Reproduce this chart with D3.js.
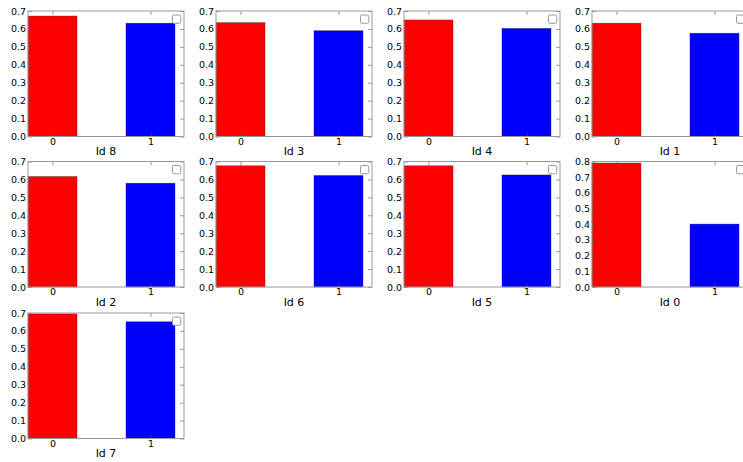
<!DOCTYPE html>
<html>
<head>
<meta charset="utf-8">
<script src="https://cdn.jsdelivr.net/npm/d3@7"></script>
<style>
  html, body { margin: 0; padding: 0; background: #fff; }
  svg { display: block; }
  text { font-family: "DejaVu Sans", sans-serif; fill: #000; }
</style>
</head>
<body>
<svg id="chart" width="743" height="462"></svg>
<script>
// ---- data ----
const panelIds = ["8", "3", "4", "1", "2", "6", "5", "0", "7"];
const categories = [0, 1];
const seriesA = [0.672, 0.635, 0.650, 0.632, 0.616, 0.676, 0.676, 0.790, 0.695]; // category 0 (red)
const seriesB = [0.632, 0.590, 0.603, 0.576, 0.579, 0.622, 0.625, 0.401, 0.651]; // category 1 (blue)
const yMaxes = [0.7, 0.7, 0.7, 0.7, 0.7, 0.7, 0.7, 0.8, 0.7];
const barColors = ["#ff0000", "#0000ff"];

// ---- layout ----
const colLeft = [28, 216, 404, 592];
const rowTop = [11, 161.5, 313];
const axW = 156, axH = 125.5;
const svg = d3.select("#chart");

panelIds.forEach((id, i) => {
  const col = i % 4, row = Math.floor(i / 4);
  const x0 = colLeft[col], y0 = rowTop[row];
  const g = svg.append("g").attr("transform", `translate(${x0},${y0})`);

  const x = d3.scaleLinear().domain([-0.25, 1.342]).range([0, axW]);
  const y = d3.scaleLinear().domain([0, yMaxes[i]]).range([axH, 0]);
  const vals = [seriesA[i], seriesB[i]];
  const bw = 0.5;

  // bars
  g.selectAll("rect.bar").data(categories).enter().append("rect")
    .attr("class", "bar")
    .attr("x", c => x(c - bw / 2))
    .attr("width", x(bw) - x(0))
    .attr("y", c => y(vals[c]))
    .attr("height", c => y(0) - y(vals[c]))
    .attr("fill", c => barColors[c])
    .attr("stroke", "#222")
    .attr("stroke-opacity", 0.6)
    .attr("stroke-width", 0.6);

  // ticks
  const yTicks = d3.range(0, yMaxes[i] + 1e-9, 0.1);
  const fmt = d3.format(".1f");

  // left axis labels
  const yAxis = d3.axisLeft(y).tickValues(yTicks).tickFormat(fmt).tickSizeInner(-4).tickSizeOuter(0).tickPadding(2);
  const ya = g.append("g").call(yAxis);
  ya.select(".domain").remove();
  ya.selectAll("line").attr("stroke", "#555").attr("stroke-width", 0.6);
  ya.selectAll("text").attr("font-size", "9.5px").attr("font-family", "DejaVu Sans").attr("fill", "#000");

  // right ticks
  const yr = g.append("g").attr("transform", `translate(${axW},0)`)
    .call(d3.axisRight(y).tickValues(yTicks).tickFormat("").tickSizeInner(-4).tickSizeOuter(0));
  yr.select(".domain").remove();
  yr.selectAll("line").attr("stroke", "#555").attr("stroke-width", 0.6);

  // bottom axis
  const xa = g.append("g").attr("transform", `translate(0,${axH})`)
    .call(d3.axisBottom(x).tickValues(categories).tickFormat(d3.format("d")).tickSizeInner(-4).tickSizeOuter(0).tickPadding(1.5));
  xa.select(".domain").remove();
  xa.selectAll("line").attr("stroke", "#555").attr("stroke-width", 0.6);
  xa.selectAll("text").attr("font-size", "9.5px").attr("font-family", "DejaVu Sans").attr("fill", "#000");

  // top ticks
  const xt = g.append("g")
    .call(d3.axisTop(x).tickValues(categories).tickFormat("").tickSizeInner(-4).tickSizeOuter(0));
  xt.select(".domain").remove();
  xt.selectAll("line").attr("stroke", "#555").attr("stroke-width", 0.6);

  // frame
  g.append("rect").attr("x", 0).attr("y", 0).attr("width", axW).attr("height", axH)
    .attr("fill", "none").attr("stroke", "#999").attr("stroke-width", 1);

  // empty legend box
  g.append("rect").attr("x", axW - 11.5).attr("y", 4).attr("width", 8.3).attr("height", 8.3)
    .attr("rx", 1.5).attr("fill", "#fff").attr("stroke", "#999").attr("stroke-width", 1);

  // title below
  g.append("text").attr("x", axW / 2).attr("y", axH + 18.5)
    .attr("text-anchor", "middle").attr("font-size", "11px").text("Id " + id);
});
</script>
</body>
</html>
